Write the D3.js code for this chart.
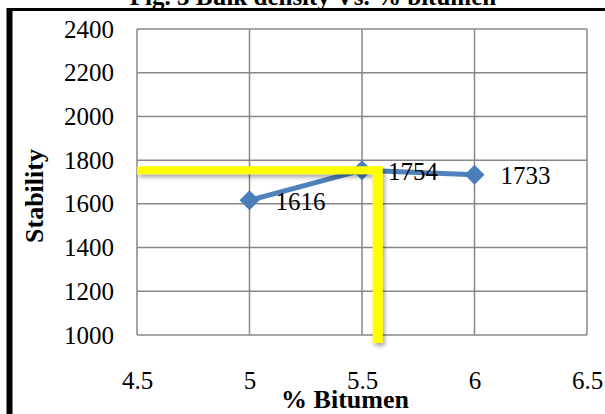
<!DOCTYPE html>
<html>
<head>
<meta charset="utf-8">
<script src="https://cdn.jsdelivr.net/npm/d3@7"></script>
<style>
  body { margin: 0; background: #fff; }
  svg { display: block; }
  svg text { font-family: 'Liberation Serif', 'Times New Roman', serif; fill: #000; }
</style>
</head>
<body>
<script>
// data
var bitumen = [5, 5.5, 6];
var stability = [1616, 1754, 1733];
var xTicks = [4.5, 5, 5.5, 6, 6.5];
var yTicks = [1000, 1200, 1400, 1600, 1800, 2000, 2200, 2400];
// yellow guide lines (optimum read-off)
var guideX = 5.57, guideY = 1754, guideBottom = 963;

var W = 605, H = 414;
var svg = d3.select("body").append("svg")
    .attr("width", W)
    .attr("height", H);

var x = d3.scaleLinear().domain([4.5, 6.5]).range([137, 587]);
var y = d3.scaleLinear().domain([1000, 2400]).range([335, 29]);

var defs = svg.append("defs");
var f = defs.append("filter").attr("id", "shadow")
    .attr("x", "-20%").attr("y", "-20%").attr("width", "140%").attr("height", "140%");
f.append("feDropShadow").attr("dx", 2).attr("dy", 3).attr("stdDeviation", 2)
    .attr("flood-color", "#000").attr("flood-opacity", 0.35);

// title, cut off at the top of the picture
svg.append("text")
    .attr("x", 313).attr("y", 5)
    .attr("text-anchor", "middle")
    .style("font-weight", "bold")
    .style("font-size", "25px")
    .text("Fig. 3 Bulk density Vs. % bitumen");

// outer frame
svg.append("line").attr("x1", 7).attr("x2", W).attr("y1", 9.5).attr("y2", 9.5)
    .attr("stroke", "#000").attr("stroke-width", 3);
svg.append("line").attr("x1", 9.5).attr("x2", 9.5).attr("y1", 8).attr("y2", H)
    .attr("stroke", "#000").attr("stroke-width", 6);

// gridlines
var grid = svg.append("g");
grid.selectAll("line.h").data(yTicks).enter().append("line")
    .attr("x1", x(4.5)).attr("x2", x(6.5))
    .attr("y1", function(d) { return y(d); }).attr("y2", function(d) { return y(d); })
    .attr("stroke", "#878787").attr("stroke-width", 1.5);
grid.selectAll("line.v").data(xTicks).enter().append("line")
    .attr("y1", y(1000)).attr("y2", y(2400))
    .attr("x1", function(d) { return x(d); }).attr("x2", function(d) { return x(d); })
    .attr("stroke", "#878787").attr("stroke-width", 1.5);

// axes (labels only)
svg.append("g")
    .attr("transform", "translate(" + x(4.5) + ",0)")
    .call(d3.axisLeft(y).tickValues(yTicks).tickSize(0).tickPadding(23).tickFormat(d3.format("d")));
svg.append("g")
    .attr("transform", "translate(0," + y(1000) + ")")
    .call(d3.axisBottom(x).tickValues(xTicks).tickSize(0).tickPadding(36).tickFormat(function(d) { return d; }));
svg.selectAll(".domain").remove();
svg.selectAll(".tick text")
    .attr("font-family", null)
    .style("font-size", "25px");

// series line + markers
var pts = bitumen.map(function(b, i) { return [b, stability[i]]; });
svg.append("path")
    .datum(pts)
    .attr("fill", "none")
    .attr("stroke", "#4f81bd")
    .attr("stroke-width", 5)
    .attr("stroke-linejoin", "round")
    .attr("d", d3.line().x(function(d) { return x(d[0]); }).y(function(d) { return y(d[1]); }));

svg.selectAll("path.mk").data(pts).enter().append("path")
    .attr("class", "mk")
    .attr("transform", function(d) { return "translate(" + x(d[0]) + "," + y(d[1]) + ")"; })
    .attr("d", "M0,-10L10,0L0,10L-10,0Z")
    .attr("fill", "#4a7ebb");

// yellow guides
var guides = svg.append("g").attr("filter", "url(#shadow)");
guides.append("line")
    .attr("x1", x(4.5)).attr("x2", x(guideX) + 4)
    .attr("y1", y(guideY)).attr("y2", y(guideY))
    .attr("stroke", "#ffff00").attr("stroke-width", 8);
guides.append("line")
    .attr("x1", x(guideX)).attr("x2", x(guideX))
    .attr("y1", y(guideY) - 4).attr("y2", y(guideBottom))
    .attr("stroke", "#ffff00").attr("stroke-width", 10);

// data labels
svg.selectAll("text.lbl").data(pts).enter().append("text")
    .attr("class", "lbl")
    .attr("x", function(d) { return x(d[0]) + 26; })
    .attr("y", function(d) { return y(d[1]); })
    .attr("dy", "0.38em")
    .style("font-size", "25px")
    .text(function(d) { return d[1]; });

// axis titles
svg.append("text")
    .attr("x", 345).attr("y", 408)
    .attr("text-anchor", "middle")
    .style("font-weight", "bold")
    .style("font-size", "26px")
    .text("% Bitumen");
svg.append("text")
    .attr("transform", "translate(43,196) rotate(-90)")
    .attr("text-anchor", "middle")
    .style("font-weight", "bold")
    .style("font-size", "26px")
    .text("Stability");
</script>
</body>
</html>
